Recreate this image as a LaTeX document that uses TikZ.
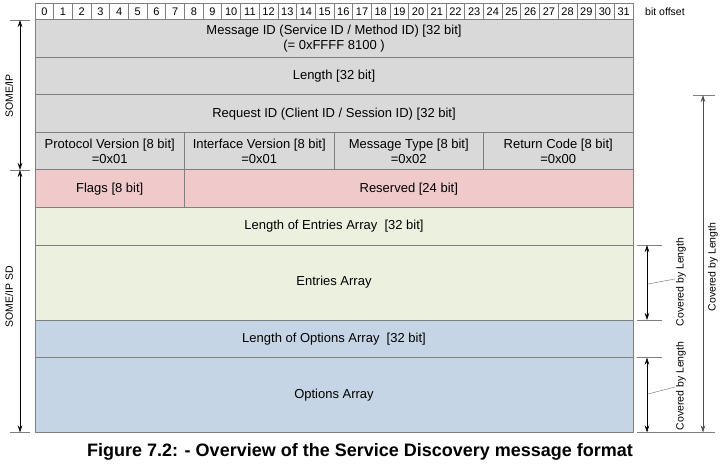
\documentclass[tikz,border=0pt]{standalone}
\usepackage{fontspec}
\setmainfont{Liberation Sans}
\usetikzlibrary{arrows.meta}

\definecolor{gridgray}{HTML}{7F7F7F}
\definecolor{hdrgray}{HTML}{D9D9D9}
\definecolor{sdred}{HTML}{F0CACA}
\definecolor{sdgreen}{HTML}{EBF1DE}
\definecolor{sdblue}{HTML}{C6D5E5}

\tikzset{
	field/.style={draw=gridgray, line width=1pt, inner sep=0pt, align=center, font=\fontsize{13}{15.5}\selectfont},
	bitcell/.style={draw=gridgray, line width=0.8pt, fill=white, inner sep=0pt, minimum width=18.6875pt, minimum height=17pt, font=\fontsize{11}{12}\selectfont},
	dimarrow/.style={{Stealth[length=7pt,width=4.5pt]}-{Stealth[length=7pt,width=4.5pt]}, line width=0.6pt},
	tickline/.style={draw=gridgray, line width=0.8pt},
	sidelabel/.style={rotate=90, inner sep=0pt, font=\fontsize{10.5}{12}\selectfont},
}

\begin{document}
\begin{tikzpicture}[x=1pt, y=-1pt]
	\useasboundingbox (0,0) rectangle (720,465);
	% bit offsets
	\foreach \i in {0,...,31} {\node[bitcell] (b\i) at ({35+(\i+0.5)*18.6875},11.5) {\i};}
	\node[anchor=west, inner sep=0pt, font=\fontsize{10.5}{12}\selectfont] (bitoff) at (645,11.5) {bit offset};
	% SOME/IP header
	\node[field, fill=hdrgray, minimum width=598pt, minimum height=37.5pt] (msgid) at (334,38.75) {Message ID (Service ID / Method ID) [32 bit]\\(= 0xFFFF 8100 )};
	\node[field, fill=hdrgray, minimum width=598pt, minimum height=37.5pt] (len) at (334,76.25) {Length [32 bit]};
	\node[field, fill=hdrgray, minimum width=598pt, minimum height=37.5pt] (reqid) at (334,113.75) {Request ID (Client ID / Session ID) [32 bit]};
	\node[field, fill=hdrgray, minimum width=149.5pt, minimum height=37.5pt] (proto) at (109.75,151.25) {Protocol Version [8 bit]\\=0x01};
	\node[field, fill=hdrgray, minimum width=149.5pt, minimum height=37.5pt] (iface) at (259.25,151.25) {Interface Version [8 bit]\\=0x01};
	\node[field, fill=hdrgray, minimum width=149.5pt, minimum height=37.5pt] (msgtype) at (408.75,151.25) {Message Type [8 bit]\\=0x02};
	\node[field, fill=hdrgray, minimum width=149.5pt, minimum height=37.5pt] (retcode) at (558.25,151.25) {Return Code [8 bit]\\=0x00};
	% SD part
	\node[field, fill=sdred, minimum width=149.5pt, minimum height=37.5pt] (flags) at (109.75,188.75) {Flags [8 bit]};
	\node[field, fill=sdred, minimum width=448.5pt, minimum height=37.5pt] (resv) at (408.75,188.75) {Reserved [24 bit]};
	\node[field, fill=sdgreen, minimum width=598pt, minimum height=37.5pt] (lenent) at (334,226.25) {Length of Entries Array\ \ [32 bit]};
	\node[field, fill=sdgreen, minimum width=598pt, minimum height=75pt] (entries) at (334,282.5) {Entries Array};
	\node[field, fill=sdblue, minimum width=598pt, minimum height=37.5pt] (lenopt) at (334,338.75) {Length of Options Array\ \ [32 bit]};
	\node[field, fill=sdblue, minimum width=598pt, minimum height=75pt] (options) at (334,395) {Options Array};
	% left: protocol spans
	\coordinate (ipTop) at (20,20); \coordinate (ipBot) at (20,170); \coordinate (sdBot) at (20,432.5);
	\draw[tickline] (10,20) -- (30,20); \draw[tickline] (10,170) -- (30,170); \draw[tickline] (10,432.5) -- (30,432.5);
	\draw[dimarrow] (ipTop) -- (ipBot);
	\draw[dimarrow] (ipBot) -- (sdBot);
	\node[sidelabel] (iplbl) at (9,96) {SOME/IP};
	\node[sidelabel] (sdlbl) at (9,297) {SOME/IP SD};
	% right: length coverage
	\coordinate (entTop) at (647,245); \coordinate (entBot) at (647,320);
	\coordinate (optTop) at (647,357.5); \coordinate (optBot) at (647,432.5);
	\coordinate (allTop) at (703,95); \coordinate (allBot) at (703,432.5);
	\draw[tickline] (637,245) -- (662,245); \draw[tickline] (637,320) -- (662,320);
	\draw[tickline] (637,357.5) -- (662,357.5); \draw[tickline] (637,432.5) -- (715,432.5);
	\draw[tickline] (693,95) -- (715,95);
	\draw[dimarrow] (entTop) -- (entBot);
	\draw[dimarrow] (optTop) -- (optBot);
	\draw[dimarrow, draw=gridgray!60!black] (allTop) -- (allBot);
	\node[sidelabel] (cov1) at (681,282) {Covered by Length};
	\node[sidelabel] (cov2) at (681,386) {Covered by Length};
	\node[sidelabel] (cov3) at (713,267) {Covered by Length};
	\coordinate (lead1) at (648,284); \coordinate (lead2) at (648,394);
	\draw[gridgray, line width=0.5pt] (675,279) -- (lead1);
	\draw[gridgray, line width=0.5pt] (675,387) -- (lead2);
	\node[font=\bfseries\fontsize{18}{20}\selectfont] (caption) at (360,452) {Figure 7.2: - Overview of the Service Discovery message format};
\end{tikzpicture}
\end{document}
